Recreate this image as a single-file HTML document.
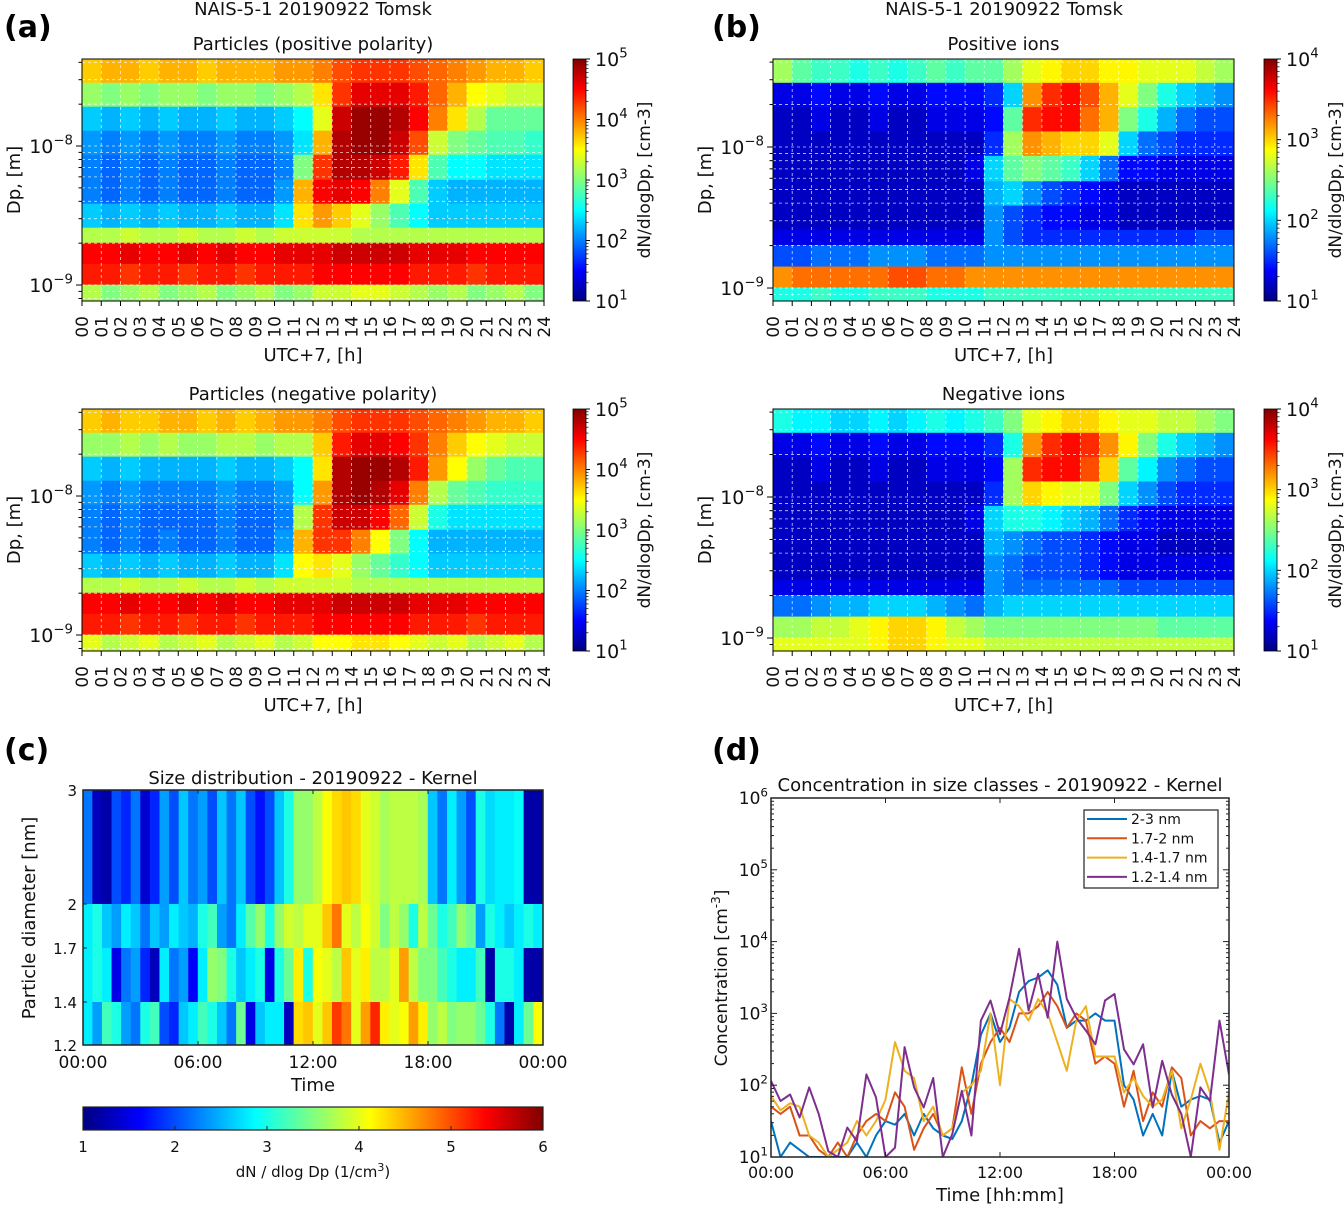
<!DOCTYPE html>
<html><head><meta charset="utf-8"><style>
body{margin:0;background:#fff}
svg{display:block;font-family:"DejaVu Sans","Liberation Sans",sans-serif}
</style></head><body>
<svg id="fig" width="1344" height="1206" viewBox="0 0 1344 1206" xmlns="http://www.w3.org/2000/svg"></svg>
<script>
// ---------- data ----------
const hours = [0,1,2,3,4,5,6,7,8,9,10,11,12,13,14,15,16,17,18,19,20,21,22,23];
const dpEdgesLog = [-7.374,-7.547,-7.719,-7.892,-8.065,-8.245,-8.417,-8.590,-8.698,-8.85,-9.0,-9.115];
const posParticles = [
[3.7,3.8,3.8,3.7,3.8,3.8,3.7,3.8,3.8,3.8,3.9,3.9,4.0,4.2,4.3,4.3,4.3,4.2,4.1,4.0,3.9,3.8,3.8,3.7],
[3.1,3.0,3.1,3.0,3.1,3.1,3.0,3.1,3.1,3.0,3.1,3.2,3.6,4.3,4.6,4.6,4.6,4.4,4.1,3.8,3.5,3.4,3.3,3.3],
[2.3,2.2,2.3,2.2,2.3,2.2,2.2,2.3,2.2,2.2,2.3,2.5,3.4,4.7,4.9,4.9,4.8,4.5,4.0,3.6,3.2,2.9,2.9,2.9],
[2.1,2.0,2.1,2.0,2.1,2.0,2.0,2.1,2.0,2.0,2.1,2.4,3.8,4.8,4.9,4.9,4.7,4.2,3.3,3.0,2.9,2.8,2.8,2.7],
[2.0,1.9,2.0,1.9,2.0,1.9,1.9,2.0,1.9,1.9,2.0,3.0,4.3,4.8,4.8,4.7,4.4,3.6,2.8,2.5,2.5,2.4,2.4,2.4],
[2.0,1.9,2.0,1.9,2.0,1.9,1.9,2.0,1.9,1.9,2.1,3.8,4.5,4.6,4.5,4.0,3.4,2.8,2.3,2.2,2.2,2.2,2.2,2.2],
[2.3,2.2,2.3,2.2,2.3,2.2,2.2,2.3,2.2,2.2,2.4,3.6,3.9,3.7,3.4,3.1,2.8,2.5,2.3,2.3,2.3,2.3,2.3,2.3],
[3.2,3.2,3.3,3.2,3.2,3.3,3.2,3.2,3.3,3.2,3.3,3.3,3.3,3.3,3.2,3.2,3.2,3.2,3.2,3.2,3.2,3.2,3.2,3.2],
[4.5,4.5,4.6,4.5,4.5,4.6,4.5,4.6,4.5,4.5,4.6,4.6,4.6,4.7,4.7,4.7,4.7,4.6,4.6,4.6,4.5,4.5,4.5,4.5],
[4.4,4.4,4.3,4.4,4.4,4.3,4.4,4.4,4.3,4.4,4.4,4.4,4.5,4.5,4.5,4.5,4.5,4.4,4.4,4.4,4.3,4.4,4.4,4.4],
[3.2,3.0,3.1,3.2,3.0,3.1,3.2,3.0,3.1,3.2,3.0,3.1,3.3,3.3,3.4,3.4,3.3,3.2,3.1,3.2,3.0,3.1,3.2,3.0]];
const negParticles = [
[3.7,3.8,3.7,3.7,3.8,3.8,3.7,3.8,3.7,3.8,3.9,3.9,4.0,4.2,4.3,4.3,4.3,4.2,4.1,4.0,3.9,3.8,3.8,3.7],
[3.1,3.1,3.2,3.1,3.2,3.1,3.1,3.2,3.2,3.1,3.2,3.2,3.7,4.4,4.6,4.6,4.5,4.3,4.0,3.7,3.5,3.4,3.3,3.3],
[2.3,2.2,2.3,2.2,2.2,2.2,2.2,2.3,2.2,2.2,2.3,2.5,3.6,4.8,4.9,4.9,4.8,4.4,3.9,3.5,3.1,2.9,2.8,2.8],
[2.1,2.0,2.1,2.0,2.0,2.0,2.0,2.1,2.0,2.0,2.1,2.5,3.9,4.8,4.9,4.8,4.6,4.0,3.2,2.9,2.8,2.7,2.7,2.7],
[2.0,1.9,2.0,1.9,1.9,1.9,1.9,2.0,1.9,1.9,2.0,3.2,4.3,4.7,4.7,4.5,4.1,3.3,2.6,2.4,2.4,2.4,2.4,2.4],
[2.0,1.9,2.0,1.9,2.0,1.9,1.9,2.0,1.9,1.9,2.1,3.8,4.3,4.3,4.0,3.5,3.0,2.5,2.2,2.2,2.2,2.2,2.2,2.2],
[2.3,2.2,2.3,2.2,2.3,2.2,2.2,2.3,2.2,2.2,2.4,3.5,3.6,3.4,3.1,2.9,2.7,2.5,2.3,2.3,2.3,2.3,2.3,2.3],
[3.2,3.2,3.3,3.2,3.2,3.3,3.2,3.2,3.3,3.2,3.3,3.3,3.3,3.3,3.2,3.2,3.2,3.2,3.2,3.2,3.2,3.2,3.2,3.2],
[4.5,4.5,4.6,4.5,4.5,4.6,4.5,4.6,4.5,4.5,4.6,4.6,4.6,4.7,4.7,4.7,4.7,4.6,4.6,4.6,4.5,4.5,4.5,4.5],
[4.4,4.4,4.3,4.4,4.4,4.3,4.4,4.4,4.3,4.4,4.4,4.4,4.5,4.5,4.5,4.5,4.5,4.4,4.4,4.4,4.3,4.4,4.4,4.4],
[3.4,3.2,3.3,3.4,3.2,3.3,3.4,3.2,3.3,3.4,3.2,3.3,3.5,3.5,3.6,3.6,3.5,3.4,3.3,3.4,3.2,3.3,3.4,3.2]];
const posIons = [
[2.6,2.4,2.3,2.3,2.2,2.3,2.2,2.3,2.4,2.3,2.4,2.4,2.6,2.8,2.9,3.0,3.0,2.9,2.9,2.8,2.8,2.8,2.7,2.6],
[1.3,1.3,1.4,1.3,1.3,1.4,1.3,1.3,1.4,1.4,1.4,1.5,2.0,3.2,3.5,3.6,3.4,3.1,2.8,2.5,2.2,2.0,1.9,1.8],
[1.2,1.2,1.3,1.2,1.2,1.3,1.2,1.2,1.3,1.3,1.3,1.4,2.4,3.5,3.6,3.6,3.3,3.1,2.5,2.2,1.9,1.7,1.6,1.6],
[1.2,1.2,1.2,1.2,1.2,1.2,1.2,1.2,1.2,1.2,1.2,1.5,2.6,3.2,3.1,3.0,3.0,2.8,2.0,1.7,1.6,1.5,1.5,1.5],
[1.2,1.2,1.2,1.2,1.2,1.2,1.2,1.2,1.2,1.2,1.3,2.0,2.4,2.5,2.4,2.3,2.0,1.7,1.4,1.4,1.3,1.3,1.3,1.3],
[1.2,1.2,1.2,1.2,1.2,1.2,1.2,1.2,1.2,1.2,1.2,1.9,2.0,1.8,1.6,1.5,1.4,1.3,1.2,1.2,1.2,1.2,1.2,1.2],
[1.2,1.2,1.2,1.2,1.2,1.2,1.2,1.2,1.2,1.2,1.2,1.8,1.6,1.5,1.4,1.4,1.3,1.3,1.2,1.2,1.2,1.2,1.2,1.2],
[1.3,1.3,1.3,1.3,1.3,1.3,1.3,1.3,1.3,1.3,1.3,1.8,1.6,1.5,1.5,1.5,1.5,1.5,1.5,1.5,1.5,1.5,1.6,1.6],
[1.6,1.6,1.7,1.7,1.7,1.8,1.8,1.8,1.7,1.7,1.7,1.8,1.8,1.8,1.8,1.8,1.8,1.8,1.8,1.8,1.8,1.8,1.8,1.8],
[3.2,3.3,3.3,3.3,3.3,3.3,3.4,3.4,3.3,3.3,3.2,3.2,3.2,3.2,3.2,3.2,3.2,3.2,3.2,3.2,3.2,3.2,3.2,3.2],
[2.2,2.2,2.3,2.2,2.2,2.3,2.3,2.3,2.2,2.2,2.2,2.3,2.3,2.3,2.3,2.3,2.3,2.3,2.3,2.3,2.3,2.3,2.3,2.3]];
const negIons = [
[2.2,2.1,2.1,2.0,2.0,2.1,2.0,2.1,2.2,2.1,2.2,2.3,2.5,2.8,2.9,3.0,3.0,2.9,2.8,2.8,2.7,2.7,2.6,2.5],
[1.3,1.3,1.4,1.3,1.3,1.4,1.3,1.3,1.4,1.4,1.4,1.5,2.2,3.2,3.5,3.6,3.5,3.2,2.9,2.5,2.2,2.0,1.9,1.8],
[1.2,1.2,1.3,1.2,1.2,1.3,1.2,1.2,1.3,1.3,1.3,1.4,2.6,3.5,3.6,3.6,3.4,3.0,2.4,2.1,1.8,1.7,1.6,1.6],
[1.2,1.2,1.2,1.2,1.2,1.2,1.2,1.2,1.2,1.2,1.2,1.5,2.6,3.0,2.9,2.8,2.8,2.5,2.0,1.8,1.6,1.5,1.5,1.5],
[1.2,1.2,1.2,1.2,1.2,1.2,1.2,1.2,1.2,1.2,1.3,2.0,2.2,2.2,2.1,2.0,1.9,1.7,1.5,1.4,1.3,1.3,1.3,1.3],
[1.2,1.2,1.2,1.2,1.2,1.2,1.2,1.2,1.2,1.2,1.2,1.9,1.8,1.7,1.6,1.6,1.5,1.4,1.3,1.3,1.2,1.2,1.2,1.2],
[1.2,1.2,1.2,1.2,1.2,1.2,1.2,1.2,1.2,1.2,1.2,1.8,1.7,1.6,1.6,1.6,1.5,1.4,1.3,1.3,1.3,1.3,1.3,1.3],
[1.3,1.3,1.3,1.3,1.3,1.3,1.3,1.3,1.3,1.3,1.3,1.8,1.7,1.7,1.7,1.7,1.7,1.7,1.6,1.6,1.6,1.6,1.6,1.6],
[1.7,1.7,1.8,1.9,1.9,2.0,2.0,2.0,1.9,1.8,1.7,1.9,2.0,2.0,2.0,2.0,2.0,2.0,2.0,2.0,2.0,2.0,2.0,2.0],
[2.6,2.6,2.7,2.7,2.8,2.9,3.0,3.0,2.9,2.7,2.6,2.5,2.5,2.5,2.5,2.5,2.5,2.5,2.5,2.5,2.4,2.4,2.4,2.4],
[2.8,2.8,2.8,2.8,2.8,2.9,3.0,3.0,2.9,2.8,2.8,2.7,2.7,2.7,2.7,2.7,2.7,2.7,2.7,2.7,2.7,2.7,2.7,2.7]];
// panel c
const kernelClasses = ["2-3","1.7-2","1.4-1.7","1.2-1.4"];
const kernelEdges = [3,2,1.7,1.4,1.2];
const kernel23 = [2.2,1.3,1.2,2.0,1.8,2.2,1.4,1.8,2.4,2.0,2.6,2.2,2.4,2.0,2.6,2.2,2.6,2.0,1.7,2.0,2.6,3.0,3.6,3.6,3.8,4.1,4.3,4.4,4.3,4.0,3.9,3.7,3.8,3.8,3.8,3.7,2.6,2.2,2.8,2.4,2.0,3.0,2.7,2.8,2.8,2.9,1.2,1.2];
const kernel172 = [2.8,3.0,2.6,2.4,2.8,2.6,2.2,2.6,2.4,2.8,2.6,2.5,3.0,3.2,2.4,2.2,2.8,3.3,3.6,3.0,3.6,3.9,3.8,4.0,4.0,4.4,4.8,4.0,3.8,4.1,3.9,3.5,3.8,3.6,3.0,3.8,3.4,3.0,3.2,3.6,3.4,2.4,3.0,2.8,2.6,2.8,3.0,2.8];
const kernel1417 = [2.8,3.0,2.8,1.5,2.2,2.4,1.8,1.3,2.8,2.2,2.4,1.6,2.8,3.6,3.5,3.0,2.6,2.8,3.0,1.5,3.0,3.4,4.2,3.0,4.1,4.0,3.8,4.4,4.0,4.2,3.8,3.8,4.0,4.6,3.8,3.5,3.5,3.2,3.0,2.8,2.8,3.2,1.2,3.0,3.0,2.8,1.2,1.2];
const kernel1214 = [2.8,2.4,3.2,3.0,2.4,2.2,3.0,3.2,2.0,1.8,2.6,2.8,3.2,3.0,2.6,2.2,3.4,1.5,2.6,2.8,2.8,1.3,4.3,4.4,4.0,4.4,5.1,4.8,4.0,4.6,5.2,4.2,4.0,4.1,4.6,4.2,3.6,3.8,3.5,3.6,3.6,3.4,3.0,2.2,1.2,2.8,3.4,4.1];
// panel d (log10 concentration, half-hour steps 0..24h)
const concHours = [0,0.5,1,1.5,2,2.5,3,3.5,4,4.5,5,5.5,6,6.5,7,7.5,8,8.5,9,9.5,10,10.5,11,11.5,12,12.5,13,13.5,14,14.5,15,15.5,16,16.5,17,17.5,18,18.5,19,19.5,20,20.5,21,21.5,22,22.5,23,23.5,24];
const conc23 = [1.5,1.0,1.2,1.1,1.0,1.0,1.0,1.0,1.0,1.2,1.0,1.3,1.5,1.45,1.6,1.3,1.6,1.4,1.3,1.25,1.5,2.0,2.7,3.0,2.6,2.8,3.3,3.45,3.5,3.6,3.4,2.8,2.9,2.9,3.0,2.9,2.9,2.0,1.8,1.3,1.6,1.3,2.2,1.7,1.8,1.85,1.8,1.2,1.5];
const conc172 = [1.7,1.6,1.7,1.3,1.3,1.1,1.0,1.2,1.0,1.3,1.5,1.6,1.5,1.9,1.7,1.1,1.4,1.6,1.3,1.4,2.25,1.6,2.3,2.6,2.8,2.6,3.0,3.0,3.1,3.3,3.1,2.8,3.0,2.9,2.3,2.4,2.3,1.7,2.2,1.5,1.9,1.7,2.25,2.1,1.3,1.5,1.4,1.5,1.5];
const conc1417 = [1.85,1.65,1.75,1.7,1.3,1.2,1.0,1.1,1.2,1.5,1.3,1.5,1.8,2.6,2.2,2.1,1.5,1.7,1.3,1.4,1.9,2.0,2.2,3.0,2.0,3.2,3.1,2.9,3.2,3.0,2.6,2.2,2.9,3.1,2.4,2.4,2.4,1.9,2.1,1.85,1.7,1.8,2.2,1.4,1.8,2.3,1.9,1.1,1.9];
const conc1214 = [2.06,1.78,1.87,1.55,1.97,1.6,1.08,1.0,1.41,1.22,2.15,1.83,1.0,1.13,2.53,1.97,1.69,2.1,1.0,1.32,1.92,1.3,2.9,3.18,2.71,3.22,3.9,3.04,3.55,2.94,4.0,3.2,2.94,2.76,2.57,3.18,3.27,2.5,2.29,2.57,1.69,2.34,1.87,1.6,1.0,1.97,1.78,2.9,2.15];
const hourTickLabels = ["00","01","02","03","04","05","06","07","08","09","10","11","12","13","14","15","16","17","18","19","20","21","22","23","24"];
const timeTickLabels = ["00:00","06:00","12:00","18:00","00:00"];

// ---------- helpers ----------
const NS = "http://www.w3.org/2000/svg";
const svg = document.getElementById("fig");
function mk(tag, attrs, parent, name, inter) {
  const el = document.createElementNS(NS, tag);
  for (const k in attrs) el.setAttribute(k, attrs[k]);
  
  
  (parent || svg).appendChild(el);
  return el;
}
function txt(x, y, s, size, anchor, name, parent, extra) {
  const a = Object.assign({x: x, y: y, 'font-size': size, 'text-anchor': anchor || 'middle', fill: '#111'}, extra || {});
  const t = mk('text', a, parent, name, false);
  t.textContent = s;
  return t;
}
function pow10(x, y, exp, size, anchor, name, parent, extra) {
  const t = mk('text', Object.assign({x: x, y: y, 'font-size': size, 'text-anchor': anchor || 'end', fill: '#111'}, extra || {}), parent, name, false);
  const b = document.createElementNS(NS, 'tspan'); b.textContent = '10'; t.appendChild(b);
  const e = document.createElementNS(NS, 'tspan'); e.setAttribute('dy', -size * 0.45); e.setAttribute('font-size', size * 0.7); e.textContent = exp; t.appendChild(e);
  return t;
}
function jet(t) {
  t = Math.max(0, Math.min(1, t));
  const c = v => Math.round(255 * Math.max(0, Math.min(1, v)));
  return `rgb(${c(1.5 - Math.abs(4 * t - 3))},${c(1.5 - Math.abs(4 * t - 2))},${c(1.5 - Math.abs(4 * t - 1))})`;
}
const defs = mk('defs', {}, svg, 'defs', false);
const grad = mk('linearGradient', {id: 'jetV', x1: 0, y1: 1, x2: 0, y2: 0}, defs, 'jet-gradient-vertical', false);
const gradH = mk('linearGradient', {id: 'jetH', x1: 0, y1: 0, x2: 1, y2: 0}, defs, 'jet-gradient-horizontal', false);
for (let i = 0; i <= 16; i++) {
  mk('stop', {offset: i / 16, 'stop-color': jet(i / 16)}, grad, 'gradient-stop', false);
  mk('stop', {offset: i / 16, 'stop-color': jet(i / 16)}, gradH, 'gradient-stop', false);
}

// ---------- spectrogram ----------
function spectro(o) {
  const g = mk('g', {}, svg, o.name, false);
  const X = h => o.x + h / 24 * o.w;
  const Y = L => o.y + (o.top - L) / (o.top - o.bot) * o.h;
  const clipId = o.name + '-clip';
  const cp = mk('clipPath', {id: clipId}, defs, 'clip', false);
  mk('rect', {x: o.x, y: o.y, width: o.w, height: o.h}, cp, 'clip-rect', false);
  const cells = mk('g', {'clip-path': `url(#${clipId})`}, g, 'heatmap-cells', false);
  o.data.forEach((row, r) => {
    row.forEach((v, c) => {
      const y0 = Y(dpEdgesLog[r]), y1 = Y(dpEdgesLog[r + 1]);
      mk('rect', {x: X(hours[c]) - 0.3, y: y0 - 0.3, width: o.w / 24 + 0.6, height: y1 - y0 + 0.6,
        fill: jet((v - o.vmin) / (o.vmax - o.vmin))}, cells, 'heatmap-cell', false);
    });
  });
  for (let h = 1; h < 24; h++) mk('line', {x1: X(h), x2: X(h), y1: o.y, y2: o.y + o.h, stroke: '#fff', 'stroke-width': 0.8, 'stroke-dasharray': '3,3', opacity: 0.8}, g, 'grid-line-x', false);
  for (let d = -10; d <= -8; d++) for (let m = 1; m <= 9; m++) {
    const L = d + Math.log10(m);
    if (L < o.top && L > o.bot) {
      const yy = Y(L);
      mk('line', {x1: o.x, x2: o.x + o.w, y1: yy, y2: yy, stroke: '#fff', 'stroke-width': 0.8, 'stroke-dasharray': '3,3', opacity: 0.8}, g, 'grid-line-y', false);
      mk('line', {x1: o.x - (m === 1 ? 6 : 3.5), x2: o.x, y1: yy, y2: yy, stroke: '#000', 'stroke-width': 1}, g, 'y-tick', false);
      if (m === 1) pow10(o.x - 9, yy + 7, '−' + (-d), 19, 'end', 'y-tick-label', g);
    }
  }
  mk('rect', {x: o.x, y: o.y, width: o.w, height: o.h, fill: 'none', stroke: '#000', 'stroke-width': 1}, g, 'plot-frame', false);
  hourTickLabels.forEach((s, i) => {
    const xx = X(i);
    mk('line', {x1: xx, x2: xx, y1: o.y + o.h, y2: o.y + o.h + 5, stroke: '#000'}, g, 'x-tick', false);
    txt(xx + 6, o.y + o.h + 15, s, 17, 'end', 'x-tick-label', g, {transform: `rotate(-90 ${xx + 6} ${o.y + o.h + 15})`});
  });
  txt(o.x + o.w / 2, o.y + o.h + 60, 'UTC+7, [h]', 18, 'middle', 'x-axis-title', g);
  const yl = o.x - 62, ym = o.y + o.h / 2;
  txt(yl, ym, 'Dp, [m]', 18, 'middle', 'y-axis-title', g, {transform: `rotate(-90 ${yl} ${ym})`});
  txt(o.x + o.w / 2, o.y - 9, o.title, 18, 'middle', 'plot-title', g);
  const cb = mk('g', {}, g, 'colorbar', false);
  mk('rect', {x: o.cbx, y: o.y, width: 13, height: o.h, fill: 'url(#jetV)', stroke: '#000', 'stroke-width': 0.8}, cb, 'colorbar-gradient', false);
  for (let e = o.vmin; e <= o.vmax; e++) {
    const yy = o.y + o.h - (e - o.vmin) / (o.vmax - o.vmin) * o.h;
    mk('line', {x1: o.cbx + 13, x2: o.cbx + 17, y1: yy, y2: yy, stroke: '#000'}, cb, 'colorbar-tick', false);
    if (e < o.vmax) for (let m = 2; m <= 9; m++) {
      const ym2 = yy - Math.log10(m) / (o.vmax - o.vmin) * o.h;
      mk('line', {x1: o.cbx + 13, x2: o.cbx + 15.5, y1: ym2, y2: ym2, stroke: '#000', 'stroke-width': 0.7}, cb, 'colorbar-minor-tick', false);
    }
    pow10(o.cbx + 22, yy + 7, String(e), 19, 'start', 'colorbar-tick-label', cb);
  }
  const lx = o.cbx + 77;
  txt(lx, ym, 'dN/dlogDp, [cm-3]', 17, 'middle', 'colorbar-title', cb, {transform: `rotate(-90 ${lx} ${ym})`});
}
spectro({name: 'panel-a-positive', x: 82, y: 59, w: 462, h: 242, top: -7.374, bot: -9.115, data: posParticles, vmin: 1, vmax: 5, cbx: 573, title: 'Particles (positive polarity)'});
spectro({name: 'panel-a-negative', x: 82, y: 409, w: 462, h: 242, top: -7.374, bot: -9.115, data: negParticles, vmin: 1, vmax: 5, cbx: 573, title: 'Particles (negative polarity)'});
spectro({name: 'panel-b-positive', x: 773, y: 59, w: 461, h: 242, top: -7.376, bot: -9.092, data: posIons, vmin: 1, vmax: 4, cbx: 1264, title: 'Positive ions'});
spectro({name: 'panel-b-negative', x: 773, y: 409, w: 461, h: 242, top: -7.376, bot: -9.092, data: negIons, vmin: 1, vmax: 4, cbx: 1264, title: 'Negative ions'});
txt(313, 15, 'NAIS-5-1 20190922 Tomsk', 18, 'middle', 'figure-title-a');
txt(1004, 15, 'NAIS-5-1 20190922 Tomsk', 18, 'middle', 'figure-title-b');
[['(a)', 4, 37], ['(b)', 712, 37], ['(c)', 4, 760], ['(d)', 712, 760]].forEach(p => txt(p[1], p[2], p[0], 30, 'start', 'panel-label', svg, {'font-weight': 'bold', fill: '#000'}));

// ---------- panel c ----------
(function () {
  const g = mk('g', {}, svg, 'panel-c', false);
  const x0 = 83, w = 460, y0 = 790, h = 255;
  const ypos = [790, 904, 948, 1002, 1045];
  const Y = d => { const i = kernelEdges.indexOf(d); return ypos[i]; };
  const X = hh => x0 + hh / 24 * w;
  const rows = [kernel23, kernel172, kernel1417, kernel1214];
  rows.forEach((row, r) => row.forEach((v, c) => {
    mk('rect', {x: X(c * 0.5) - 0.2, y: Y(kernelEdges[r]), width: w / 48 + 0.4, height: Y(kernelEdges[r + 1]) - Y(kernelEdges[r]),
      fill: jet((v - 1) / 5)}, g, 'heatmap-cell', false);
  }));
  mk('rect', {x: x0, y: y0, width: w, height: h, fill: 'none', stroke: '#222', 'stroke-width': 1.5}, g, 'plot-frame', false);
  kernelEdges.forEach(d => {
    const yy = Y(d);
    mk('line', {x1: x0, x2: x0 + 4, y1: yy, y2: yy, stroke: '#222'}, g, 'y-tick', false);
    txt(x0 - 6, yy + 6, String(d), 15, 'end', 'y-tick-label', g);
  });
  timeTickLabels.forEach((s, i) => {
    const xx = X(i * 6);
    mk('line', {x1: xx, x2: xx, y1: y0 + h, y2: y0 + h - 4, stroke: '#222'}, g, 'x-tick', false);
    mk('line', {x1: xx, x2: xx, y1: y0, y2: y0 + 4, stroke: '#222'}, g, 'x-tick', false);
    txt(xx, 1068, s, 17, 'middle', 'x-tick-label', g);
  });
  txt(313, 1091, 'Time', 18, 'middle', 'x-axis-title', g);
  txt(35, 918, 'Particle diameter [nm]', 18, 'middle', 'y-axis-title', g, {transform: 'rotate(-90 35 918)'});
  txt(313, 784, 'Size distribution - 20190922 - Kernel', 18, 'middle', 'plot-title', g);
  mk('rect', {x: 83, y: 1107, width: 460, height: 23, fill: 'url(#jetH)', stroke: '#222', 'stroke-width': 1.2}, g, 'colorbar', false);
  for (let i = 1; i <= 6; i++) {
    const xx = 83 + (i - 1) / 5 * 460;
    mk('line', {x1: xx, x2: xx, y1: 1130, y2: 1126, stroke: '#222'}, g, 'colorbar-tick', false);
    txt(xx, 1152, String(i), 15, 'middle', 'colorbar-tick-label', g);
  }
  const t = txt(313, 1177, 'dN / dlog Dp (1/cm', 15, 'middle', 'colorbar-title', g);
  const s = document.createElementNS(NS, 'tspan'); s.setAttribute('dy', -6); s.setAttribute('font-size', 11); s.textContent = '3'; t.appendChild(s);
  const s2 = document.createElementNS(NS, 'tspan'); s2.setAttribute('dy', 6); s2.textContent = ')'; t.appendChild(s2);
})();

// ---------- panel d ----------
(function () {
  const g = mk('g', {}, svg, 'panel-d', false);
  const x0 = 771, w = 458, y0 = 798, h = 359;
  const X = hh => x0 + hh / 24 * w;
  const Y = L => y0 + h - (L - 1) / 5 * h;
  const series = [[conc23, '#0072BD', '2-3 nm'], [conc172, '#D95319', '1.7-2 nm'], [conc1417, '#EDB120', '1.4-1.7 nm'], [conc1214, '#7E2F8E', '1.2-1.4 nm']];
  const cp = mk('clipPath', {id: 'dclip'}, defs, 'clip', false);
  mk('rect', {x: x0, y: y0, width: w, height: h}, cp, 'clip-rect', false);
  const lines = mk('g', {'clip-path': 'url(#dclip)'}, g, 'series-lines', false);
  series.forEach(s => {
    const pts = s[0].map((v, i) => X(concHours[i]).toFixed(1) + ',' + Y(v).toFixed(1)).join(' ');
    mk('polyline', {points: pts, fill: 'none', stroke: s[1], 'stroke-width': 2, 'stroke-linejoin': 'round'}, lines, 'series-line-' + s[2].replace(/[ .]/g, '-'), false);
  });
  mk('rect', {x: x0, y: y0, width: w, height: h, fill: 'none', stroke: '#222', 'stroke-width': 1.5}, g, 'plot-frame', false);
  for (let e = 1; e <= 6; e++) {
    const yy = Y(e);
    mk('line', {x1: x0, x2: x0 + 6, y1: yy, y2: yy, stroke: '#222'}, g, 'y-tick', false);
    mk('line', {x1: x0 + w, x2: x0 + w - 6, y1: yy, y2: yy, stroke: '#222'}, g, 'y-tick', false);
    if (e < 6) for (let m = 2; m <= 9; m++) {
      const ym = Y(e + Math.log10(m));
      mk('line', {x1: x0, x2: x0 + 3, y1: ym, y2: ym, stroke: '#222'}, g, 'y-minor-tick', false);
      mk('line', {x1: x0 + w, x2: x0 + w - 3, y1: ym, y2: ym, stroke: '#222'}, g, 'y-minor-tick', false);
    }
    pow10(x0 - 3, yy + 6, String(e), 17, 'end', 'y-tick-label', g);
  }
  timeTickLabels.forEach((s, i) => {
    const xx = X(i * 6);
    mk('line', {x1: xx, x2: xx, y1: y0 + h, y2: y0 + h - 5, stroke: '#222'}, g, 'x-tick', false);
    mk('line', {x1: xx, x2: xx, y1: y0, y2: y0 + 5, stroke: '#222'}, g, 'x-tick', false);
    txt(xx, 1178, s, 16, 'middle', 'x-tick-label', g);
  });
  txt(1000, 1201, 'Time [hh:mm]', 18, 'middle', 'x-axis-title', g);
  const yt = txt(727, 978, 'Concentration [cm', 17, 'middle', 'y-axis-title', g, {transform: 'rotate(-90 727 978)'});
  const s1 = document.createElementNS(NS, 'tspan'); s1.setAttribute('dy', -7); s1.setAttribute('font-size', 12); s1.textContent = '-3'; yt.appendChild(s1);
  const s2 = document.createElementNS(NS, 'tspan'); s2.setAttribute('dy', 7); s2.textContent = ']'; yt.appendChild(s2);
  txt(1000, 791, 'Concentration in size classes - 20190922 - Kernel', 18, 'middle', 'plot-title', g);
  const lg = mk('g', {}, g, 'legend', false);
  mk('rect', {x: 1084, y: 810, width: 134, height: 78, fill: '#fff', stroke: '#222', 'stroke-width': 1.2}, lg, 'legend-box', false);
  series.forEach((s, i) => {
    const yy = 819 + i * 19.3;
    mk('line', {x1: 1087, x2: 1127, y1: yy, y2: yy, stroke: s[1], 'stroke-width': 2}, lg, 'legend-swatch', false);
    txt(1131, yy + 5, s[2], 14, 'start', 'legend-entry', lg);
  });
})();
</script>
</body></html>
